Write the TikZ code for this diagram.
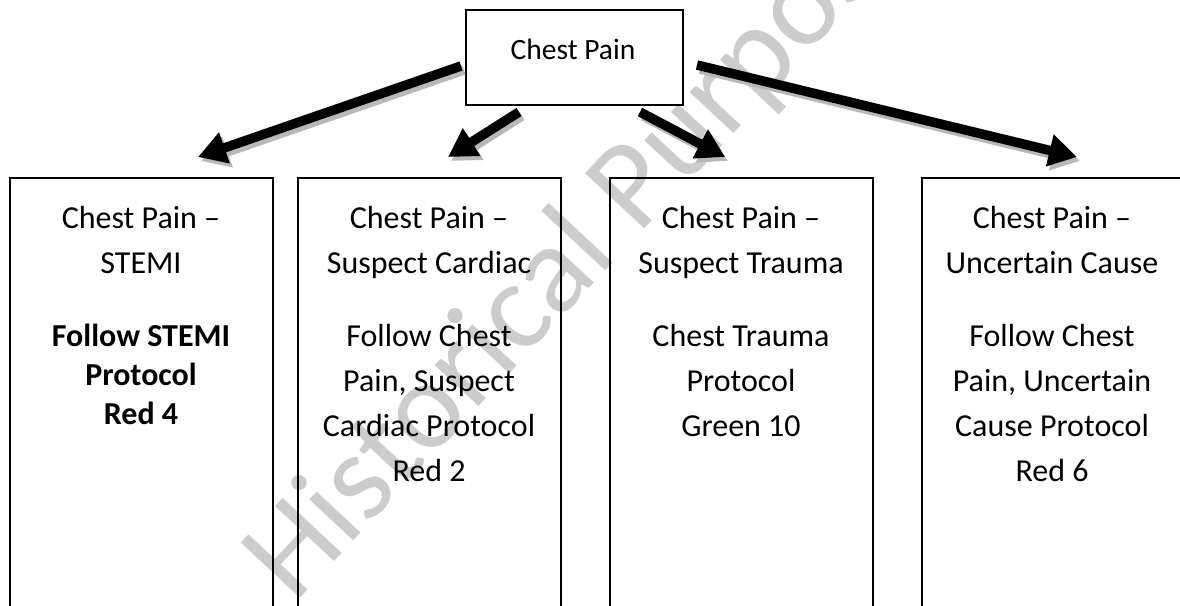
\documentclass[tikz,border=0pt]{standalone}
\usepackage{fontspec}
\setmainfont{Carlito}
\usetikzlibrary{arrows.meta}
\begin{document}
\begin{tikzpicture}[x=1pt,y=-1pt,
  panel/.style={draw=black, line width=1.6pt, minimum width=263pt, minimum height=500pt, anchor=north west, inner sep=0pt},
  topbox/.style={draw=black, line width=1.6pt, minimum width=217pt, minimum height=95pt, anchor=north west, inner sep=0pt},
  normtxt/.style={align=center, font=\fontsize{32}{45}\selectfont, anchor=base, inner sep=0pt},
  boldtxt/.style={align=center, font=\fontsize{32}{39}\selectfont\bfseries, anchor=base, inner sep=0pt},
  toptxt/.style={font=\fontsize{29.5}{35}\selectfont, anchor=base, inner sep=0pt},
  watermark/.style={font=\fontsize{126}{130}\selectfont, text=black!20, anchor=base west, inner sep=0pt},
  bigarrow/.style={line width=9.5pt, -{Triangle[length=28pt,width=31pt]}},
  shadowarrow/.style={bigarrow, draw=black!28, fill=black!28, transform canvas={shift={(3pt,-4pt)}}},
]
\useasboundingbox (0,0) rectangle (1180,605);
\clip (0,0) rectangle (1180,605);

% watermark
\node[watermark, rotate=47] (wm) at (294,605) {Historical Purposes};

% top box
\node[topbox] (top) at (465,9) {};
\node[toptxt] (toplbl) at (573,59) {Chest Pain};

% panels
\node[panel] (b1) at (9,177) {};
\node[panel] (b2) at (297,177) {};
\node[panel] (b3) at (609,177) {};
\node[panel] (b4) at (921,177) {};

% (anchor = baseline of the last line)
\node[normtxt] (t1) at (141,273) {Chest Pain --\\STEMI};
\node[boldtxt] (p1) at (141,424) {Follow STEMI\\Protocol\\Red 4};

\node[normtxt] (t2) at (429,273) {Chest Pain --\\Suspect Cardiac};
\node[normtxt] (p2) at (429,481) {Follow Chest\\Pain, Suspect\\Cardiac Protocol\\Red 2};

\node[normtxt] (t3) at (741,273) {Chest Pain --\\Suspect Trauma};
\node[normtxt] (p3) at (741,436) {Chest Trauma\\Protocol\\Green 10};

\node[normtxt] (t4) at (1052,273) {Chest Pain --\\Uncertain Cause};
\node[normtxt] (p4) at (1052,481) {Follow Chest\\Pain, Uncertain\\Cause Protocol\\Red 6};

% arrow end points
\coordinate (s1) at (461,66);
\coordinate (e1) at (198,157);
\coordinate (s2) at (519,112);
\coordinate (e2) at (448,157);
\coordinate (s3) at (640,112);
\coordinate (e3) at (725,157);
\coordinate (s4) at (697,65);
\coordinate (e4) at (1077,157);

\foreach \s/\e in {s1/e1,s2/e2,s3/e3,s4/e4}{
  \draw[shadowarrow] (\s) -- (\e);
}
\foreach \s/\e in {s1/e1,s2/e2,s3/e3,s4/e4}{
  \draw[bigarrow] (\s) -- (\e);
}
\end{tikzpicture}
\end{document}
